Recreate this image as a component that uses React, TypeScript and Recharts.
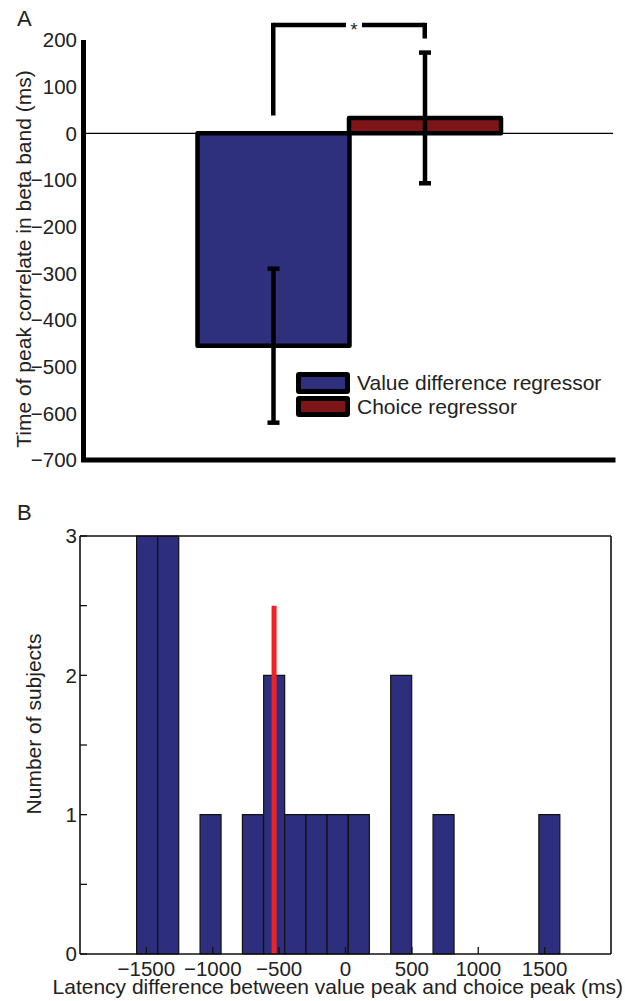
import React from 'react';
import { BarChart, ComposedChart, Bar, Line, Cell, ErrorBar, XAxis, YAxis, ReferenceLine, Legend } from 'recharts';

const FONT = '"Liberation Sans", Arial, Helvetica, sans-serif';
const TEXT = '#222';

// Panel A: time of peak correlate per regressor (ms)
const regressors = ['Value difference regressor', 'Choice regressor'];
const peakTimes = [-455, 33];
const peakErrors = [165, 140];
const regressorColors = ['#2E307E', '#7E1518'];
const yTicksA = [-700, -600, -500, -400, -300, -200, -100, 0, 100, 200];
// significance bracket: leg bottoms per regressor, common top
const bracketBase = [43, 208];
const bracketTop = 232;

// Panel B: histogram of latency differences
const binCenters = [-1494, -1335, -1175, -1016, -856, -697, -537, -378, -218, -59, 101, 260, 420, 579, 739, 898, 1058, 1217, 1377, 1536];
const subjectCounts = [3, 3, 0, 1, 0, 1, 2, 1, 1, 1, 1, 0, 2, 0, 1, 0, 0, 0, 0, 1];
const xTicksB = [-1500, -1000, -500, 0, 500, 1000, 1500];
const yTicksB = [0, 0.5, 1, 1.5, 2, 2.5, 3];
const meanLatency = -538;
const meanLineTop = 2.5;

const regressorData = regressors.map((name, i) => ({ name, time: peakTimes[i], err: peakErrors[i] }));
const histData = binCenters.map((bin, i) => ({ bin, count: subjectCounts[i] }));

const fmt = (v: number) => (v < 0 ? '\u2212' + Math.abs(v) : String(v));

const YLabelA = (props: any) => {
  const vb = props.viewBox;
  const x = vb.x + 31;
  const y = vb.y + vb.height / 2 + 9;
  return (
    <text x={x} y={y} transform={`rotate(-90, ${x}, ${y})`} textAnchor="middle" fontSize={21} fontFamily={FONT} fill={TEXT}>
      Time of peak correlate in beta band (ms)
    </text>
  );
};

const YLabelB = (props: any) => {
  const vb = props.viewBox;
  const x = vb.x + 41;
  const y = vb.y + vb.height / 2 - 21;
  return (
    <text x={x} y={y} transform={`rotate(-90, ${x}, ${y})`} textAnchor="middle" fontSize={21} fontFamily={FONT} fill={TEXT}>
      Number of subjects
    </text>
  );
};

const XLabelB = (props: any) => {
  const vb = props.viewBox;
  return (
    <text x={vb.x + vb.width + 12} y={vb.y + 40} textAnchor="end" fontSize={21} fontFamily={FONT} fill={TEXT}>
      Latency difference between value peak and choice peak (ms)
    </text>
  );
};

const Star = (props: any) => {
  const vb = props.viewBox;
  const cx = vb.x + vb.width / 2 + 5;
  return (
    <g>
      <rect x={cx - 8} y={vb.y - 4} width={16} height={8} fill="#fff" />
      <text x={cx} y={vb.y + 11} textAnchor="middle" fontSize={18} fontFamily={FONT} fill={TEXT}>*</text>
    </g>
  );
};

const LegendA = () => (
  <div style={{ fontFamily: FONT }}>
    {regressors.map((name, i) => (
      <div key={name} style={{ display: 'flex', alignItems: 'center', height: 23.5 }}>
        <div
          style={{
            width: 54,
            height: 21.5,
            boxSizing: 'border-box',
            border: '5px solid #000',
            borderRadius: 3,
            background: regressorColors[i],
          }}
        />
        <span style={{ marginLeft: 7, fontSize: 21, color: TEXT, lineHeight: '21px', whiteSpace: 'nowrap' }}>{name}</span>
      </div>
    ))}
  </div>
);

const PanelLetter = ({ letter, top }: { letter: string; top: number }) => (
  <div style={{ position: 'absolute', left: 17, top, fontSize: 22, fontFamily: FONT, color: TEXT, lineHeight: 1 }}>{letter}</div>
);

const axisStroke = { stroke: '#111', strokeWidth: 1.6 };
const tickStroke = { stroke: '#111', strokeWidth: 1.3 };
const tickText = { fill: TEXT, fontSize: 20.5, fontFamily: FONT };

export default function App() {
  return (
    <div style={{ position: 'absolute', left: 0, top: 0, width: 625, height: 1001, background: '#fff', overflow: 'hidden' }}>
      <PanelLetter letter="A" top={8} />
      <PanelLetter letter="B" top={502} />

      <div style={{ position: 'absolute', left: 0, top: 0 }}>
        <BarChart
          width={625}
          height={480}
          data={regressorData}
          margin={{ top: 40, right: 12, bottom: 19, left: 0 }}
          barCategoryGap={0}
          barGap={0}
        >
          <XAxis
            dataKey="name"
            type="category"
            padding={{ left: 114, right: 112.5 }}
            height={1}
            tick={false}
            tickLine={false}
            axisLine={{ stroke: '#000', strokeWidth: 5, strokeLinecap: 'square' }}
          />
          <YAxis
            type="number"
            domain={[-700, 200]}
            ticks={yTicksA}
            interval={0}
            allowDataOverflow
            width={83.5}
            tickLine={false}
            tickMargin={0.5}
            tick={tickText}
            tickFormatter={fmt}
            axisLine={{ stroke: '#000', strokeWidth: 5 }}
            label={YLabelA}
          />
          <ReferenceLine y={0} stroke="#000" strokeWidth={1.3} />
          <Bar dataKey="time" stroke="#000" strokeWidth={4.5} strokeLinejoin="round" isAnimationActive={false}>
            {regressorData.map((d, i) => (
              <Cell key={d.name} fill={regressorColors[i]} />
            ))}
            <ErrorBar dataKey="err" direction="y" width={6} stroke="#000" strokeWidth={4.5} />
          </Bar>
          {regressors.map((name, i) => (
            <ReferenceLine
              key={name}
              segment={[{ x: name, y: bracketBase[i] }, { x: name, y: bracketTop }]}
              stroke="#000"
              strokeWidth={4.5}
              strokeLinecap="square"
              ifOverflow="visible"
            />
          ))}
          <ReferenceLine
            segment={[{ x: regressors[0], y: bracketTop }, { x: regressors[1], y: bracketTop }]}
            stroke="#000"
            strokeWidth={4.5}
            ifOverflow="visible"
            label={Star}
          />
          <Legend
            layout="vertical"
            align="center"
            verticalAlign="middle"
            content={LegendA}
            wrapperStyle={{ left: 296, top: 371, width: 320, height: 47 }}
          />
        </BarChart>
      </div>

      <div style={{ position: 'absolute', left: 0, top: 480 }}>
        <ComposedChart
          width={625}
          height={521}
          data={histData}
          margin={{ top: 55, right: 0, bottom: 0, left: 0 }}
          barCategoryGap={0}
          barGap={0}
        >
          <XAxis
            xAxisId="ms"
            dataKey="bin"
            type="number"
            domain={[-2000, 2000]}
            ticks={xTicksB}
            interval={0}
            allowDataOverflow
            height={47}
            tickSize={-7}
            tickMargin={14}
            tickFormatter={fmt}
            tick={tickText}
            tickLine={tickStroke}
            axisLine={axisStroke}
            label={XLabelB}
          />
          <XAxis
            xAxisId="top"
            dataKey="bin"
            orientation="top"
            type="number"
            domain={[-2000, 2000]}
            ticks={xTicksB}
            interval={0}
            allowDataOverflow
            height={1}
            tick={false}
            tickSize={-7}
            tickLine={tickStroke}
            axisLine={axisStroke}
          />
          <YAxis
            yAxisId="count"
            type="number"
            domain={[0, 3]}
            ticks={yTicksB}
            interval={0}
            width={80}
            tickSize={-7}
            tickMargin={10}
            tickFormatter={(v: number) => (Number.isInteger(v) ? String(v) : '')}
            tick={tickText}
            tickLine={tickStroke}
            axisLine={axisStroke}
            label={YLabelB}
          />
          <YAxis
            yAxisId="right"
            orientation="right"
            type="number"
            domain={[0, 3]}
            ticks={yTicksB}
            interval={0}
            width={14}
            tick={false}
            tickSize={-7}
            tickLine={tickStroke}
            axisLine={axisStroke}
          />
          <Bar
            xAxisId="ms"
            yAxisId="count"
            dataKey="count"
            fill="#2D2F7E"
            stroke="#111"
            strokeWidth={1.2}
            isAnimationActive={false}
          />
          {/* invisible series so the mirrored top/right axes get their ticks */}
          <Line
            xAxisId="top"
            yAxisId="right"
            dataKey="count"
            stroke="none"
            dot={false}
            activeDot={false}
            legendType="none"
            isAnimationActive={false}
          />
          <ReferenceLine
            xAxisId="ms"
            yAxisId="count"
            segment={[{ x: meanLatency, y: 0 }, { x: meanLatency, y: meanLineTop }]}
            stroke="#EE2326"
            strokeWidth={5}
          />
        </ComposedChart>
      </div>
    </div>
  );
}
